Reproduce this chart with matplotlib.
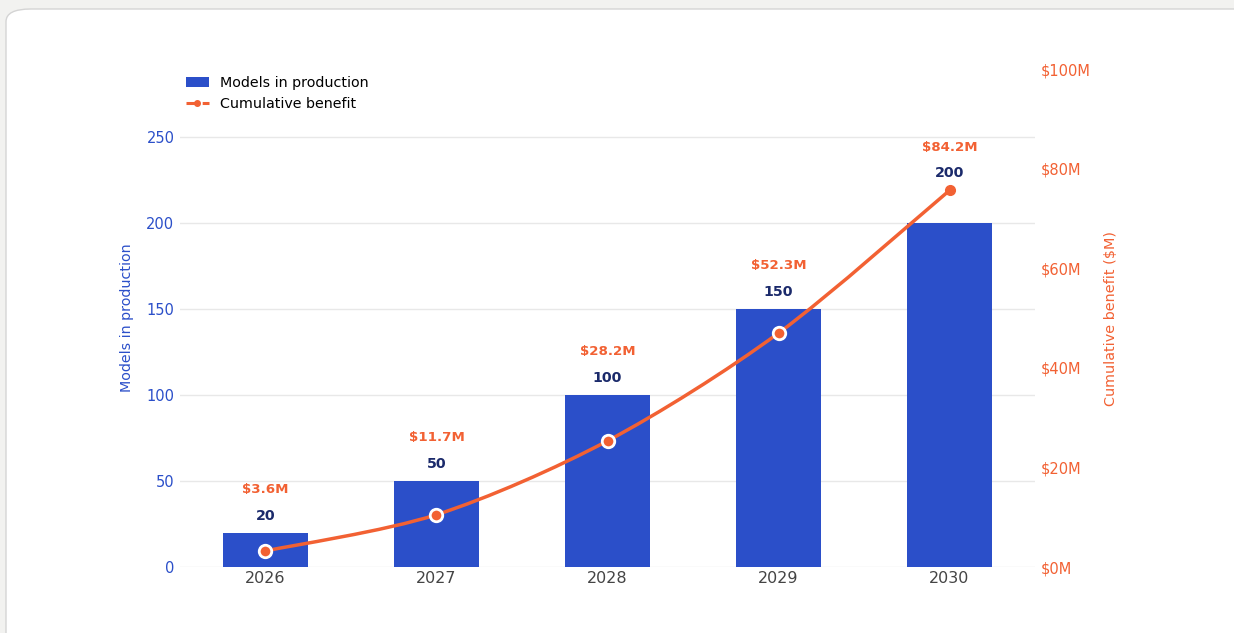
import matplotlib
matplotlib.use("Agg")
import matplotlib.pyplot as plt
import numpy as np
from matplotlib.patches import FancyBboxPatch, Patch
from matplotlib.lines import Line2D
from matplotlib.path import Path
from matplotlib.patches import PathPatch

years = ["2026", "2027", "2028", "2029", "2030"]
models = [20, 50, 100, 150, 200]
benefit = [3.6, 11.7, 28.2, 52.3, 84.2]  # $M
benefit_labels = ["$3.6M", "$11.7M", "$28.2M", "$52.3M", "$84.2M"]
left_ticks = [0, 50, 100, 150, 200, 250]
right_ticks = [0, 20, 40, 60, 80, 100]

BLUE = "#2b4fc9"
ORANGE = "#f26133"
NAVY = "#1b2a6b"

plt.rcParams['font.family'] = ['DejaVu Sans']
fig = plt.figure(figsize=(12.34, 6.33), dpi=100)
fig.patch.set_facecolor("#f2f2f0")
card = FancyBboxPatch((6 / 1234, -0.1), 1.2, (633 - 9) / 633 + 0.1,
                      boxstyle="round,pad=0,rounding_size=0.02",
                      transform=fig.transFigure, facecolor="white",
                      edgecolor="#d4d4d4", linewidth=1.0, zorder=-10)
fig.patches.append(card)

ax = fig.add_axes([180 / 1234, 66 / 633, 855 / 1234, 498 / 633])
ax.set_facecolor("none")
x = np.arange(len(years))
left_max = 289.5
ax.set_xlim(-0.5, len(years) - 0.5)
ax.set_ylim(0, left_max)

ax.bar(x, models, width=0.5, color=BLUE, zorder=2)
ax.set_yticks(left_ticks)
ax.set_yticklabels([str(t) for t in left_ticks])
ax.tick_params(axis='y', colors=BLUE, labelsize=10.5, length=0, pad=4)
ax.tick_params(axis='x', colors="#444444", labelsize=11.5, length=0, pad=3)
ax.set_xticks(x)
ax.set_xticklabels(years)
ax.grid(axis='y', color="#e8e8e8", linewidth=1, zorder=0)
ax.set_axisbelow(True)
for s in ax.spines.values():
    s.set_visible(False)
ax.set_ylabel("Models in production", color=BLUE, fontsize=10.3, labelpad=9)

# right axis (labels)
ax2 = ax.twinx()
ax2.set_ylim(0, 100)
ax2.set_yticks(right_ticks)
ax2.set_yticklabels([f"${t}M" for t in right_ticks])
ax2.tick_params(axis='y', colors=ORANGE, labelsize=10.5, length=0, pad=4)
for s in ax2.spines.values():
    s.set_visible(False)
ax2.set_ylabel("Cumulative benefit ($M)", color=ORANGE, fontsize=10.4, labelpad=10)

# line axis (hidden)
scale = 2.6
ax3 = ax.twinx()
ax3.set_ylim(0, left_max / scale)
ax3.axis('off')

# smooth path through points
pts = np.column_stack([x, benefit]).astype(float)
n = len(pts)
verts = [tuple(pts[0])]
codes = [Path.MOVETO]
t = 0.3
for i in range(n - 1):
    p0 = pts[max(i - 1, 0)]
    p1 = pts[i]
    p2 = pts[i + 1]
    p3 = pts[min(i + 2, n - 1)]
    c1 = p1 + (p2 - p0) * t / 2
    c2 = p2 - (p3 - p1) * t / 2
    verts += [tuple(c1), tuple(c2), tuple(p2)]
    codes += [Path.CURVE4] * 3
path = Path(verts, codes)
ax3.add_patch(PathPatch(path, facecolor='none', edgecolor=ORANGE, linewidth=2.5, zorder=3))
ax3.plot(x[:-1], benefit[:-1], 'o', color=ORANGE, markersize=9,
         markeredgecolor='white', markeredgewidth=2, zorder=4)
ax3.plot(x[-1:], benefit[-1:], 'o', color=ORANGE, markersize=7, zorder=4)

# value labels
fig.canvas.draw()
for i in range(n):
    yb = ax.transData.transform((x[i], models[i]))[1]
    yl = ax3.transData.transform((x[i], benefit[i]))[1]
    ytop = max(yb, yl)
    xd = ax.transData.transform((x[i], 0))[0]
    xf, yf = fig.transFigure.inverted().transform((xd, ytop + 17))
    fig.text(xf, yf, str(models[i]), ha='center', va='center',
             color=NAVY, fontsize=10.3, fontweight='bold')
    xf, yf = fig.transFigure.inverted().transform((xd, ytop + 43))
    fig.text(xf, yf, benefit_labels[i], ha='center', va='center',
             color=ORANGE, fontsize=9.6, fontweight='bold')

handles = [Patch(facecolor=BLUE, edgecolor='none'),
           Line2D([0], [0], color=ORANGE, linestyle='--', linewidth=2.2,
                  marker='o', markersize=4)]
leg = ax.legend(handles, ["Models in production", "Cumulative benefit"],
                loc='upper left', bbox_to_anchor=(0.0, 0.998), frameon=False,
                fontsize=10.3, handlelength=1.6, handletextpad=0.8,
                labelspacing=0.5, borderaxespad=0.0)
leg.set_zorder(10)

fig.savefig("out.png", dpi=100, facecolor=fig.get_facecolor())
